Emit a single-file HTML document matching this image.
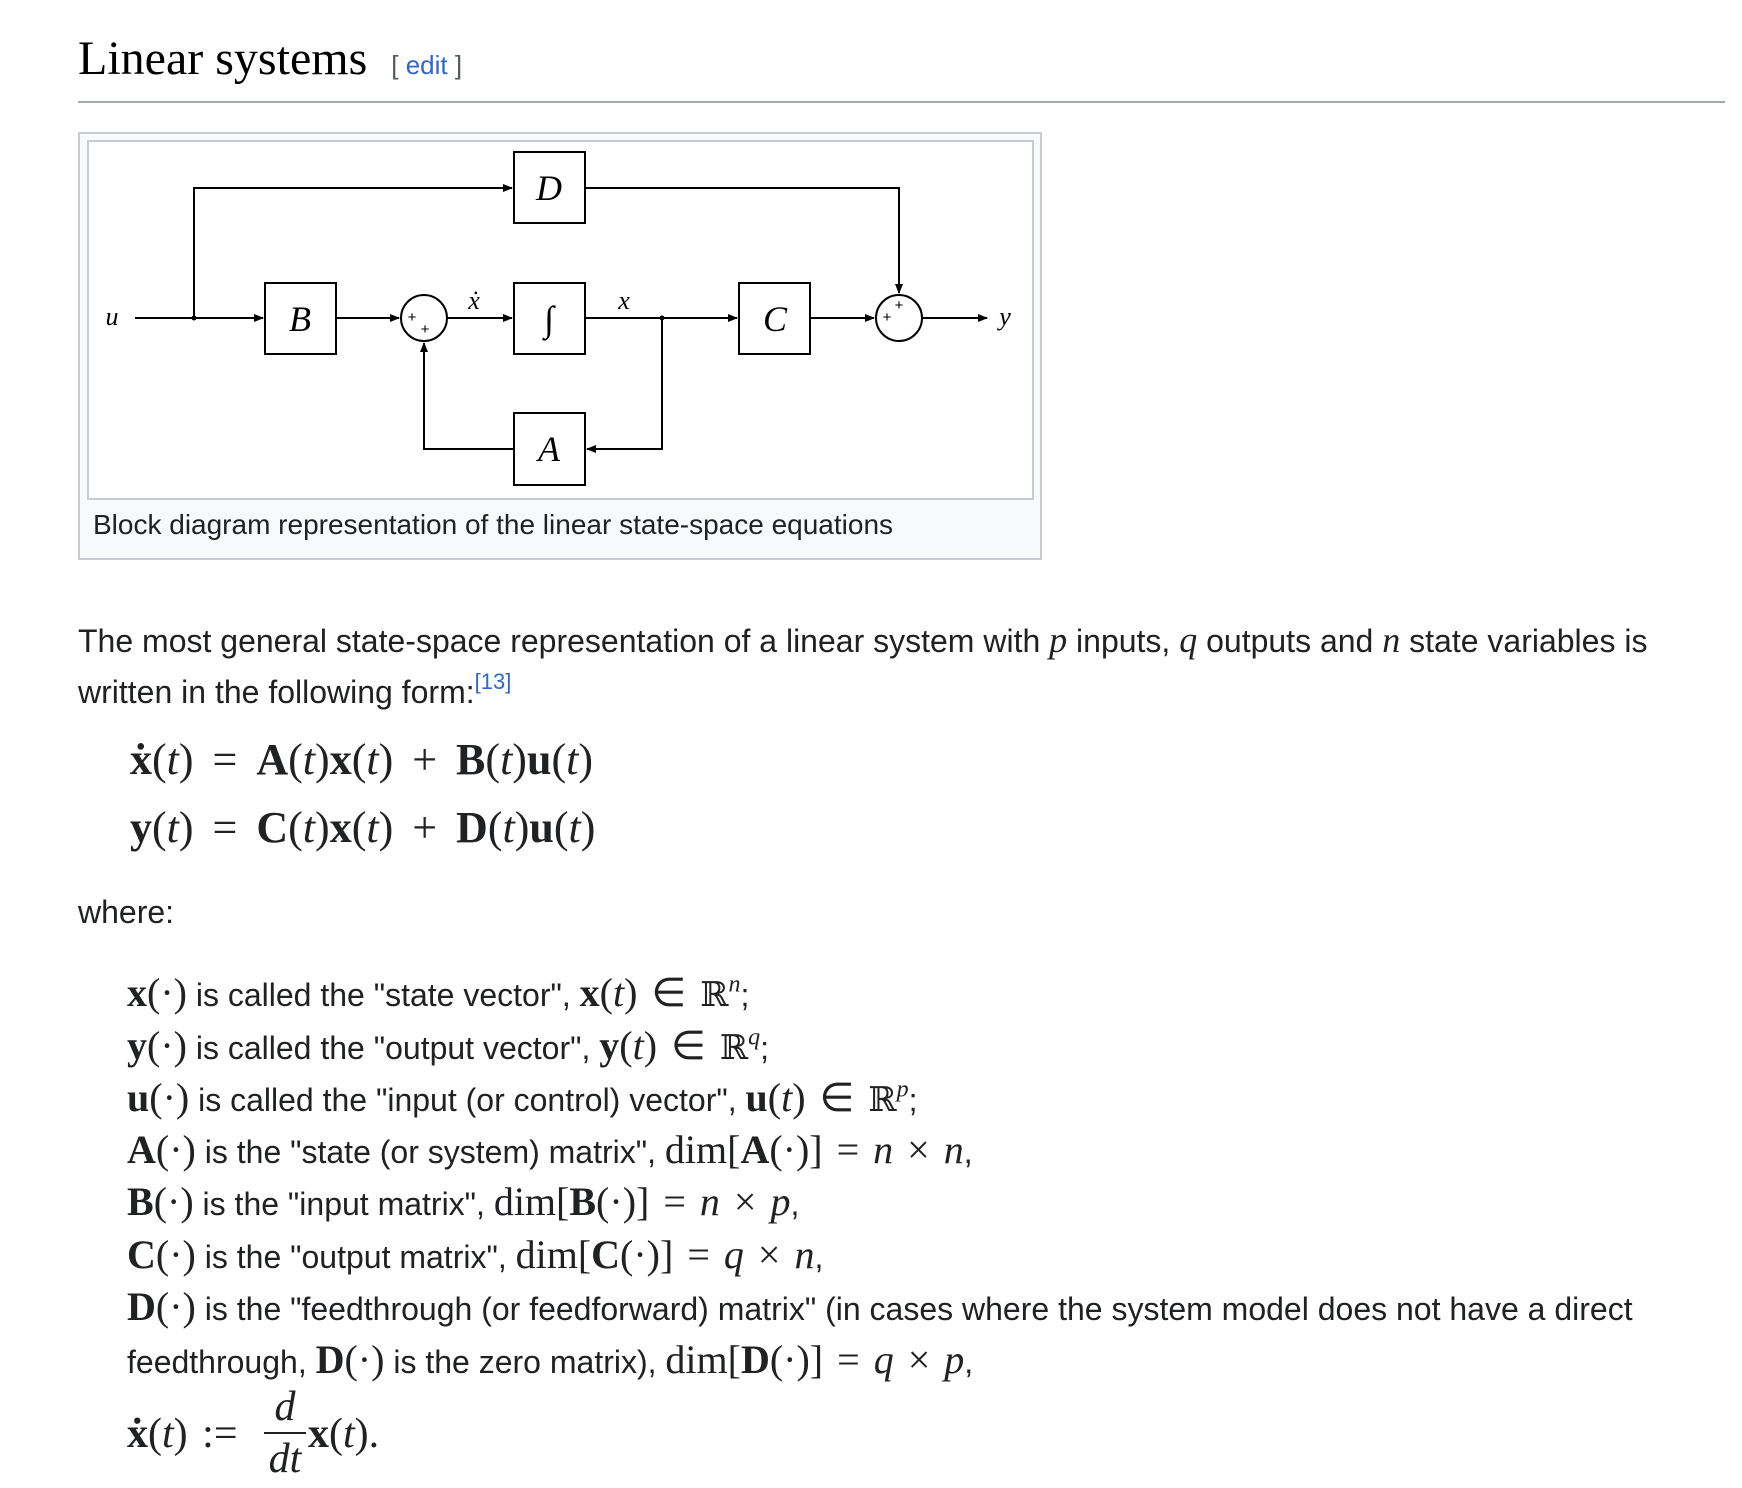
<!DOCTYPE html>
<html><head><meta charset="utf-8"><style>
body{margin:0;width:1742px;height:1488px;background:#fff;position:relative;overflow:hidden;font-family:"Liberation Sans",sans-serif;color:#202122}
.a{position:absolute;white-space:nowrap}
.t{font-size:32px;line-height:34px}
.m{font-family:"Liberation Serif",serif;font-size:42px;line-height:34px;word-spacing:4px}
.t .m{font-size:40px}
.b{font-weight:bold;font-style:normal}
i{font-family:"Liberation Serif",serif;font-style:italic}
.bb{font-family:"DejaVu Serif",serif;font-size:0.85em}
sup{font-size:0.6em;line-height:0}
</style></head><body>
<div class="a" style="left:78px;top:33px;font-family:'Liberation Serif',serif;font-size:48px;line-height:52px;color:#000">Linear systems <span style="font-family:'Liberation Sans',sans-serif;font-size:26px;color:#54595d;margin-left:12px">[ <span style="color:#3366cc">edit</span> ]</span></div>
<div class="a" style="left:78px;top:101px;width:1647px;height:2px;background:#a2a9b1"></div>
<div class="a" style="left:78px;top:132px;width:960px;height:424px;border:2px solid #c8ccd1;background:#f8f9fa"></div>
<div class="a" style="left:87px;top:140px;width:943px;height:356px;border:2px solid #c8ccd1;background:#fff"></div>
<div class="a" style="left:93px;top:509px;font-size:28px;line-height:32px">Block diagram representation of the linear state-space equations</div>
<svg class="a" style="left:-1px;top:-1px" width="1742" height="560" viewBox="0 0 1742 560">
<defs><marker id="ar" markerWidth="10" markerHeight="8" refX="9" refY="4" orient="auto" markerUnits="userSpaceOnUse"><path d="M0,0 L10,4 L0,8 z" fill="#000"/></marker></defs>
<g stroke="#000" stroke-width="2" fill="none">
<rect x="515" y="153" width="71" height="71"/>
<rect x="266" y="284" width="71" height="71"/>
<rect x="515" y="284" width="71" height="71"/>
<rect x="740" y="284" width="71" height="71"/>
<rect x="515" y="414" width="71" height="72"/>
<circle cx="425" cy="319" r="23"/>
<circle cx="900" cy="319" r="23"/>
<line x1="136" y1="319" x2="264" y2="319" marker-end="url(#ar)"/>
<polyline points="195,319 195,189 513,189" marker-end="url(#ar)"/>
<polyline points="586,189 900,189 900,294" marker-end="url(#ar)"/>
<line x1="337" y1="319" x2="400" y2="319" marker-end="url(#ar)"/>
<line x1="448" y1="319" x2="513" y2="319" marker-end="url(#ar)"/>
<line x1="586" y1="319" x2="738" y2="319" marker-end="url(#ar)"/>
<line x1="811" y1="319" x2="875" y2="319" marker-end="url(#ar)"/>
<line x1="923" y1="319" x2="988" y2="319" marker-end="url(#ar)"/>
<polyline points="663,319 663,450 588,450" marker-end="url(#ar)"/>
<polyline points="515,450 425,450 425,344" marker-end="url(#ar)"/>
</g>
<circle cx="195" cy="319" r="2.5"/><circle cx="663" cy="319" r="2.5"/>
<g font-family="Liberation Serif" font-style="italic" font-size="36" text-anchor="middle">
<text x="550" y="201">D</text><text x="301" y="332">B</text><text x="550" y="332">∫</text>
<text x="776" y="332">C</text><text x="550" y="462">A</text>
</g>
<g font-family="Liberation Serif" font-style="italic" font-size="26" text-anchor="middle">
<text x="113" y="326">u</text><text x="1006" y="326">y</text>
<text x="475" y="310">ẋ</text><text x="625" y="310">x</text>
</g>
<g font-family="Liberation Sans" font-size="15" text-anchor="middle">
<text x="413" y="323">+</text><text x="426" y="335">+</text>
<text x="888" y="323">+</text><text x="900" y="311">+</text>
</g>
</svg>
<div class="a t" style="left:78px;top:623px">The most general state-space representation of a linear system with <i style="font-size:36px">p</i> inputs, <i style="font-size:36px">q</i> outputs and <i style="font-size:36px">n</i> state variables is</div>
<div class="a t" style="left:78px;top:675px">written in the following form:<sup style="color:#3366cc;font-size:22px;vertical-align:14px">[13]</sup></div>
<div class="a m" style="left:130px;top:743px;font-size:44px;word-spacing:8px"><b>ẋ</b>(<i>t</i>) = <b>A</b>(<i>t</i>)<b>x</b>(<i>t</i>) + <b>B</b>(<i>t</i>)<b>u</b>(<i>t</i>)</div>
<div class="a m" style="left:130px;top:811px;font-size:44px;word-spacing:8px"><b>y</b>(<i>t</i>) = <b>C</b>(<i>t</i>)<b>x</b>(<i>t</i>) + <b>D</b>(<i>t</i>)<b>u</b>(<i>t</i>)</div>
<div class="a t" style="left:78px;top:895px">where:</div>
<div class="a t" style="left:127px;top:976px"><span class="m"><b>x</b>(·)</span> is called the "state vector", <span class="m"><b>x</b>(<i>t</i>) ∈ <span class="bb">ℝ</span><sup><i>n</i></sup></span>;</div>
<div class="a t" style="left:127px;top:1029px"><span class="m"><b>y</b>(·)</span> is called the "output vector", <span class="m"><b>y</b>(<i>t</i>) ∈ <span class="bb">ℝ</span><sup><i>q</i></sup></span>;</div>
<div class="a t" style="left:127px;top:1081px"><span class="m"><b>u</b>(·)</span> is called the "input (or control) vector", <span class="m"><b>u</b>(<i>t</i>) ∈ <span class="bb">ℝ</span><sup><i>p</i></sup></span>;</div>
<div class="a t" style="left:127px;top:1133px"><span class="m"><b>A</b>(·)</span> is the "state (or system) matrix", <span class="m">dim[<b>A</b>(·)] = <i>n</i> × <i>n</i></span>,</div>
<div class="a t" style="left:127px;top:1185px"><span class="m"><b>B</b>(·)</span> is the "input matrix", <span class="m">dim[<b>B</b>(·)] = <i>n</i> × <i>p</i></span>,</div>
<div class="a t" style="left:127px;top:1238px"><span class="m"><b>C</b>(·)</span> is the "output matrix", <span class="m">dim[<b>C</b>(·)] = <i>q</i> × <i>n</i></span>,</div>
<div class="a t" style="left:127px;top:1290px"><span class="m"><b>D</b>(·)</span> is the "feedthrough (or feedforward) matrix" (in cases where the system model does not have a direct</div>
<div class="a t" style="left:127px;top:1343px">feedthrough, <span class="m"><b>D</b>(·)</span> is the zero matrix), <span class="m">dim[<b>D</b>(·)] = <i>q</i> × <i>p</i></span>,</div>
<div class="a m" style="left:127px;top:1417px"><b>ẋ</b>(<i>t</i>) :=</div>
<div class="a m" style="left:264px;top:1390px;width:42px;text-align:center"><i>d</i></div>
<div class="a" style="left:264px;top:1432px;width:42px;height:2px;background:#202122"></div>
<div class="a m" style="left:264px;top:1442px;width:42px;text-align:center"><i>dt</i></div>
<div class="a m" style="left:308px;top:1417px"><b>x</b>(<i>t</i>).</div>
</body></html>
